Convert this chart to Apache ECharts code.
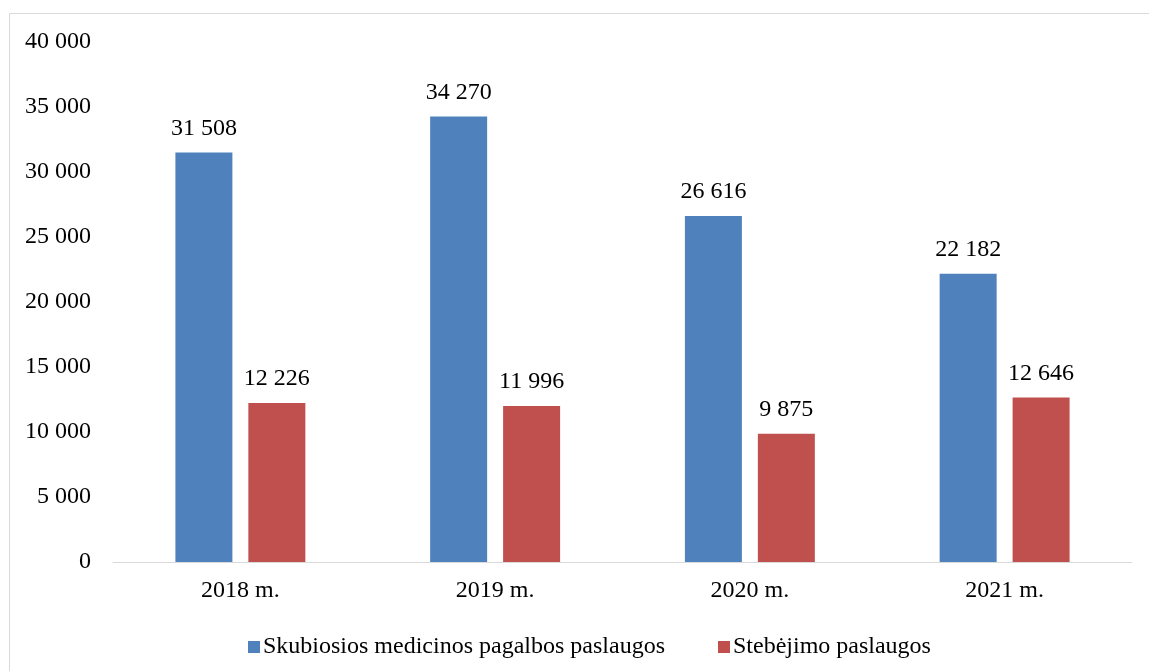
<!DOCTYPE html>
<html>
<head>
<meta charset="utf-8">
<script src="https://cdn.jsdelivr.net/npm/echarts@6/dist/echarts.min.js"></script>
<style>html,body{margin:0;padding:0;background:#fff;}#c{width:1149px;height:671px;}</style>
</head>
<body>
<div id="c"></div>
<script>
const categories = ['2018 m.', '2019 m.', '2020 m.', '2021 m.'];
const seriesNames = ['Skubiosios medicinos pagalbos paslaugos', 'Stebėjimo paslaugos'];
const emergencyValues = [31508, 34270, 26616, 22182];
const monitoringValues = [12226, 11996, 9875, 12646];
const colors = ['#4F81BD', '#C0504D'];

function fmt(v) {
  return String(v).replace(/\B(?=(\d{3})+(?!\d))/g, ' ');
}
const FONT = 'Liberation Serif';
const chart = echarts.init(document.getElementById('c'));
chart.setOption({
  animation: false,
  backgroundColor: '#fff',
  textStyle: { fontFamily: FONT },
  graphic: [{
    type: 'rect', silent: true,
    shape: { x: 9.5, y: 13.5, width: 1300, height: 800 },
    style: { fill: 'none', stroke: '#d9d9d9', lineWidth: 1 }
  }],
  grid: { left: 113, right: 17, top: 42, bottom: 109 },
  legend: {
    left: 243, top: 630,
    itemWidth: 12, itemHeight: 12, itemGap: 53,
    icon: 'rect',
    textStyle: { fontFamily: FONT, fontSize: 24, color: '#000', padding: [0, 0, 0, -2] },
    data: seriesNames
  },
  xAxis: {
    type: 'category',
    data: categories,
    axisLine: { lineStyle: { color: '#d9d9d9', width: 1 } },
    axisTick: { show: false },
    axisLabel: { fontFamily: FONT, fontSize: 24, color: '#000', margin: 17 }
  },
  yAxis: {
    type: 'value', min: 0, max: 40000, interval: 5000,
    axisLine: { show: false },
    axisTick: { show: false },
    splitLine: { show: false },
    axisLabel: { fontFamily: FONT, fontSize: 24, color: '#000', margin: 22, formatter: fmt }
  },
  series: [
    {
      name: seriesNames[0], type: 'bar', data: emergencyValues,
      barWidth: 57, barGap: '28%',
      itemStyle: { color: colors[0] },
      label: { show: true, position: 'top', distance: 12, fontFamily: FONT, fontSize: 24, color: '#000', formatter: p => fmt(p.value) }
    },
    {
      name: seriesNames[1], type: 'bar', data: monitoringValues,
      barWidth: 57, barGap: '28%',
      itemStyle: { color: colors[1] },
      label: { show: true, position: 'top', distance: 12, fontFamily: FONT, fontSize: 24, color: '#000', formatter: p => fmt(p.value) }
    }
  ]
});
</script>
</body>
</html>
